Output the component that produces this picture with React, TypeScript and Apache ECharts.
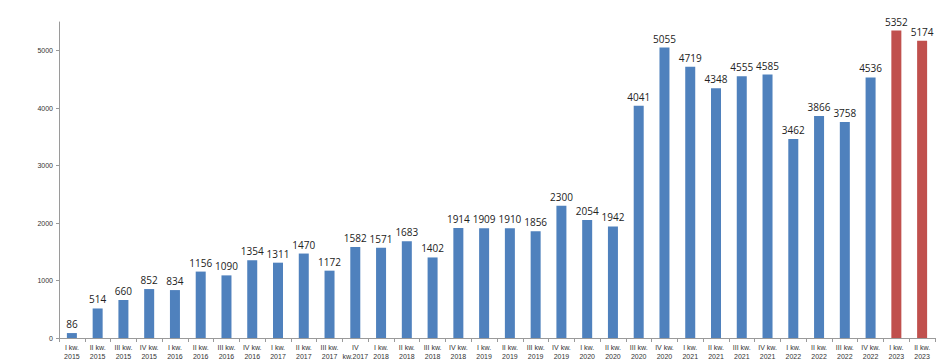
import React, { useEffect, useRef } from "react";
import * as echarts from "echarts";

const categories: string[] = [
  "I kw.\n2015", "II kw.\n2015", "III kw.\n2015", "IV kw.\n2015",
  "I kw.\n2016", "II kw.\n2016", "III kw.\n2016", "IV kw.\n2016",
  "I kw.\n2017", "II kw.\n2017", "III kw.\n2017", "IV\nkw.2017",
  "I kw.\n2018", "II kw.\n2018", "III kw.\n2018", "IV kw.\n2018",
  "I kw.\n2019", "II kw.\n2019", "III kw.\n2019", "IV kw.\n2019",
  "I kw.\n2020", "II kw.\n2020", "III kw.\n2020", "IV kw.\n2020",
  "I kw.\n2021", "II kw.\n2021", "III kw.\n2021", "IV kw.\n2021",
  "I kw.\n2022", "II kw.\n2022", "III kw.\n2022", "IV kw.\n2022",
  "I kw.\n2023", "II kw.\n2023",
];

const values: number[] = [
  86, 514, 660, 852, 834, 1156, 1090, 1354, 1311, 1470, 1172, 1582,
  1571, 1683, 1402, 1914, 1909, 1910, 1856, 2300, 2054, 1942, 4041, 5055,
  4719, 4348, 4555, 4585, 3462, 3866, 3758, 4536, 5352, 5174,
];

const highlighted: number[] = [32, 33];

const BLUE = "#4F81BD";
const RED = "#C0504D";

export default function App() {
  const ref = useRef<HTMLDivElement>(null);
  useEffect(() => {
    if (!ref.current) return;
    const chart = echarts.init(ref.current, undefined, { renderer: "svg" });
    chart.setOption({
      animation: false,
      grid: { left: 59, right: 13, top: 22, bottom: 25, containLabel: false },
      xAxis: {
        type: "category",
        data: categories,
        axisLine: { lineStyle: { color: "#9a9a9a", width: 1 } },
        axisTick: { show: true, alignWithLabel: false, length: 4, lineStyle: { color: "#9a9a9a" } },
        axisLabel: {
          interval: 0,
          fontSize: 7,
          lineHeight: 9,
          color: "#333333",
          fontFamily: "Liberation Sans, Arial, sans-serif",
          margin: 5,
        },
      },
      yAxis: {
        type: "value",
        min: 0,
        max: 5500,
        interval: 1000,
        splitLine: { show: false },
        axisLine: { show: true, lineStyle: { color: "#9a9a9a", width: 1 } },
        axisTick: { show: true, length: 3, lineStyle: { color: "#9a9a9a" } },
        axisLabel: {
          fontSize: 7,
          color: "#333333",
          fontFamily: "Liberation Sans, Arial, sans-serif",
          margin: 6,
          showMaxLabel: false,
          formatter: (v: number) => String(v),
        },
      },
      series: [
        {
          type: "bar",
          barWidth: 10,
          data: values.map((v, i) => ({
            value: v,
            itemStyle: { color: highlighted.includes(i) ? RED : BLUE },
          })),
          label: {
            show: true,
            position: "top",
            distance: 4,
            fontSize: 10,
            color: "#222222",
            fontFamily: "Open Sans, Liberation Sans, sans-serif",
          },
        },
      ],
    });
    return () => chart.dispose();
  }, []);
  return <div ref={ref} style={{ width: 948, height: 363, position: "absolute", left: 0, top: 0 }} />;
}
